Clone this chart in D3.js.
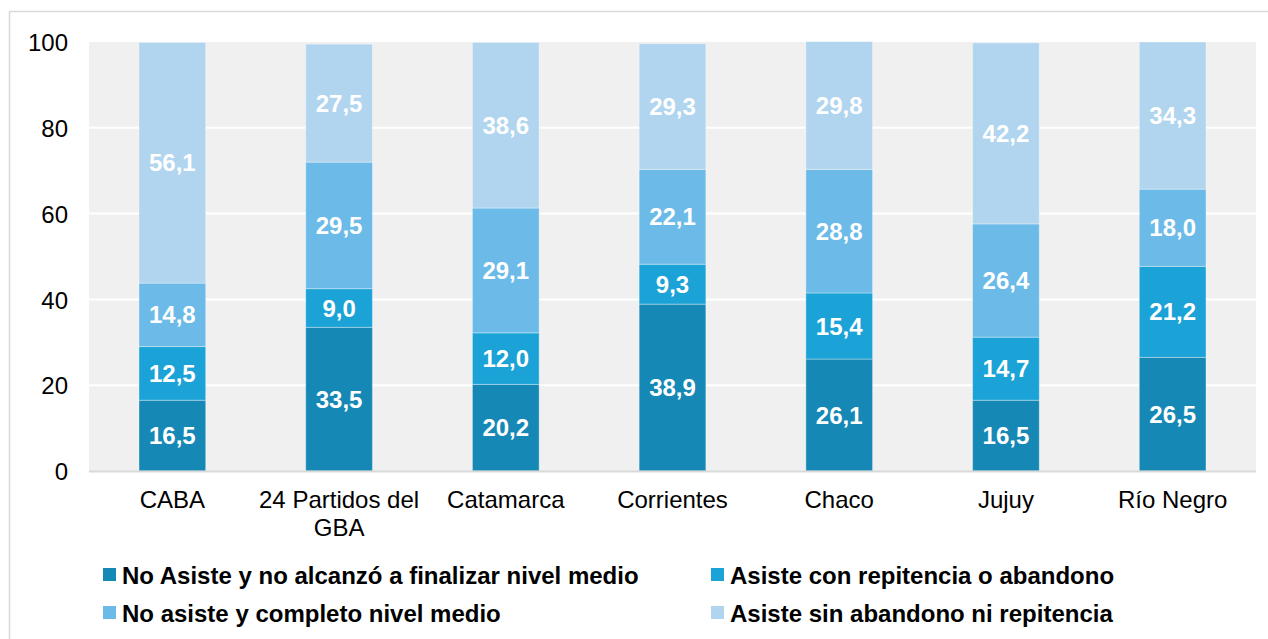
<!DOCTYPE html>
<html><head><meta charset="utf-8">
<script src="https://cdn.jsdelivr.net/npm/d3@7"></script>
<style>body{margin:0;background:#fff;}svg{display:block;font-family:"Liberation Sans",Arial,sans-serif;}</style>
</head><body><svg id="c" width="1268" height="639"></svg>
<script>
const categories = ["CABA", "24 Partidos del GBA", "Catamarca", "Corrientes", "Chaco", "Jujuy", "Río Negro"];
const seriesNames = ["No Asiste y no alcanzó a finalizar nivel medio", "Asiste con repitencia o abandono", "No asiste y completo nivel medio", "Asiste sin abandono ni repitencia"];
const noAsisteNoFinalizo = [16.5, 33.5, 20.2, 38.9, 26.1, 16.5, 26.5];
const asisteRepitencia = [12.5, 9.0, 12.0, 9.3, 15.4, 14.7, 21.2];
const noAsisteCompleto = [14.8, 29.5, 29.1, 22.1, 28.8, 26.4, 18.0];
const asisteSinAbandono = [56.1, 27.5, 38.6, 29.3, 29.8, 42.2, 34.3];
const yTicks = [0, 20, 40, 60, 80, 100];
const colors = ["#1688b5", "#1ba2d6", "#6cbae7", "#b1d5ef"];

const FONT = '"Liberation Sans",Arial,sans-serif';
const svg = d3.select("#c");
// outer frame
svg.append("path").attr("d", "M9.5,639 V11.5 H1268").attr("fill", "none").attr("stroke", "#d9d9d9").attr("stroke-width", 1.5);

const L = 89, R = 1256, T = 42, B = 471;
const x = d3.scaleBand().domain(categories).range([L, R]).paddingInner(0.6).paddingOuter(0.3);
const y = d3.scaleLinear().domain([0, 100]).range([B, T]);

svg.append("rect").attr("x", L).attr("y", T).attr("width", R - L).attr("height", B - T).attr("fill", "#f0f0f0");
svg.selectAll(".grid").data(yTicks.filter(t => t > 0 && t < 100)).join("line")
  .attr("x1", L).attr("x2", R).attr("y1", d => y(d)).attr("y2", d => y(d))
  .attr("stroke", "#ffffff").attr("stroke-width", 2);

const rows = categories.map((c, i) => ({cat: c, s0: noAsisteNoFinalizo[i], s1: asisteRepitencia[i], s2: noAsisteCompleto[i], s3: asisteSinAbandono[i]}));
const stack = d3.stack().keys(["s0", "s1", "s2", "s3"])(rows);

const fmt = v => v.toFixed(1).replace(".", ",");
stack.forEach((layer, k) => {
  const g = svg.append("g");
  g.selectAll("rect").data(layer).join("rect")
    .attr("x", d => x(d.data.cat)).attr("width", x.bandwidth())
    .attr("y", d => y(d[1])).attr("height", d => y(d[0]) - y(d[1]))
    .attr("fill", colors[k]).attr("stroke", "rgba(255,255,255,0.35)").attr("stroke-width", 1);
  g.selectAll("text").data(layer).join("text")
    .attr("x", d => x(d.data.cat) + x.bandwidth() / 2)
    .attr("y", d => (y(d[0]) + y(d[1])) / 2)
    .attr("dy", "0.36em").attr("text-anchor", "middle")
    .attr("fill", "#fff").attr("font-weight", "bold").attr("font-size", 24)
    .text(d => fmt(d[1] - d[0]));
});

// x axis line
svg.append("line").attr("x1", L).attr("x2", R).attr("y1", B + 0.5).attr("y2", B + 0.5).attr("stroke", "#d9d9d9").attr("stroke-width", 2);

// y axis labels
const yAxis = d3.axisLeft(y).tickValues(yTicks).tickSize(0).tickPadding(0);
const ya = svg.append("g").attr("transform", `translate(68,0)`).call(yAxis);
ya.select(".domain").remove();
ya.selectAll("text").attr("font-size", 24).attr("fill", "#000").attr("font-family", FONT).attr("dy", "0.36em");

// x labels
const xAxis = d3.axisBottom(x).tickSize(0).tickPadding(0);
const xa = svg.append("g").attr("transform", `translate(0,${B})`).call(xAxis);
xa.select(".domain").remove();
xa.selectAll("text").attr("font-size", 24).attr("fill", "#000").attr("font-family", FONT)
  .attr("y", 0).attr("dy", null).text(null)
  .each(function(d) {
    const t = d3.select(this);
    const lines = d === "24 Partidos del GBA" ? ["24 Partidos del", "GBA"] : [d];
    lines.forEach((ln, i) => t.append("tspan").attr("x", 0).attr("y", 37 + i * 28).text(ln));
  });

// legend
const legPos = [[103, 575], [711, 575], [103, 613], [711, 613]];
const leg = svg.append("g");
seriesNames.forEach((n, i) => {
  const [lx, ly] = legPos[i];
  leg.append("rect").attr("x", lx).attr("y", ly - 7).attr("width", 13).attr("height", 13).attr("fill", colors[i]);
  leg.append("text").attr("x", lx + 19).attr("y", ly).attr("dy", "0.36em")
    .attr("font-size", 24).attr("font-weight", "bold").attr("fill", "#000").text(n);
});
</script></body></html>
